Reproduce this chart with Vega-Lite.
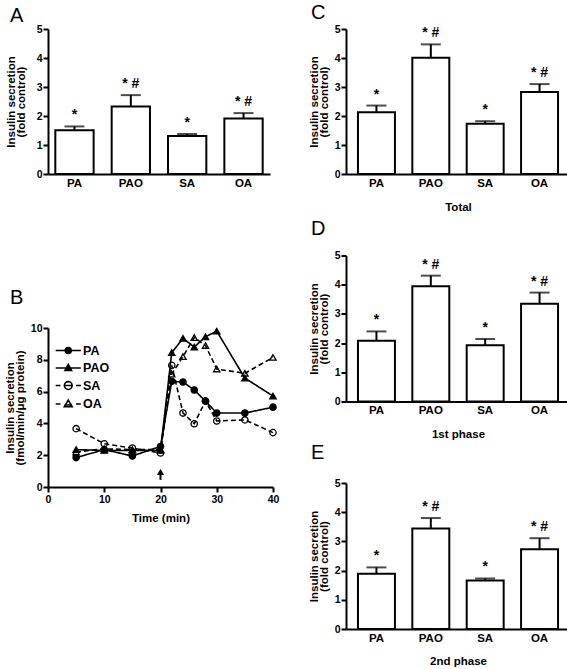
{
  "$schema": "https://vega.github.io/schema/vega-lite/v6.json",
  "padding": {"left": 4, "top": 2, "right": 0, "bottom": 0},
  "background": "white",
  "config": {
    "font": "Liberation Sans",
    "view": {"stroke": null},
    "axis": {"domainColor": "black", "domainWidth": 2, "tickColor": "black", "tickWidth": 2, "tickSize": 5, "labelColor": "black", "labelFont": "Liberation Sans", "labelFontWeight": "bold", "labelFontSize": 10.5, "labelPadding": 1, "labelOverlap": false, "labelSeparation": -40, "labelFlush": false, "titleColor": "black", "titleFont": "Liberation Sans", "titleFontWeight": "bold", "titleFontSize": 11.5, "titleLineHeight": 10, "grid": false},
    "title": {"anchor": "start", "frame": "group", "fontSize": 20, "fontWeight": "normal", "color": "black", "font": "Liberation Sans"}
  },
  "datasets": {
    "A": [
      {"g": "PA", "m": 1.51, "hi": 1.64, "sig": "*"},
      {"g": "PAO", "m": 2.33, "hi": 2.72, "sig": "* #"},
      {"g": "SA", "m": 1.31, "hi": 1.38, "sig": "*"},
      {"g": "OA", "m": 1.91, "hi": 2.10, "sig": "* #"}
    ],
    "C": [
      {"g": "PA", "m": 2.13, "hi": 2.36, "sig": "*"},
      {"g": "PAO", "m": 4.01, "hi": 4.47, "sig": "* #"},
      {"g": "SA", "m": 1.73, "hi": 1.82, "sig": "*"},
      {"g": "OA", "m": 2.83, "hi": 3.10, "sig": "* #"}
    ],
    "D": [
      {"g": "PA", "m": 2.08, "hi": 2.40, "sig": "*"},
      {"g": "PAO", "m": 3.95, "hi": 4.31, "sig": "* #"},
      {"g": "SA", "m": 1.93, "hi": 2.14, "sig": "*"},
      {"g": "OA", "m": 3.35, "hi": 3.73, "sig": "* #"}
    ],
    "E": [
      {"g": "PA", "m": 1.89, "hi": 2.11, "sig": "*"},
      {"g": "PAO", "m": 3.44, "hi": 3.80, "sig": "* #"},
      {"g": "SA", "m": 1.66, "hi": 1.73, "sig": "*"},
      {"g": "OA", "m": 2.73, "hi": 3.11, "sig": "* #"}
    ],
    "B": [
      {"s": "PA", "t": 5, "v": 1.85}, {"s": "PA", "t": 10, "v": 2.35}, {"s": "PA", "t": 15, "v": 1.95}, {"s": "PA", "t": 20, "v": 2.55}, {"s": "PA", "t": 22, "v": 6.65}, {"s": "PA", "t": 24, "v": 6.6}, {"s": "PA", "t": 26, "v": 6.1}, {"s": "PA", "t": 28, "v": 5.4}, {"s": "PA", "t": 30, "v": 4.65}, {"s": "PA", "t": 35, "v": 4.65}, {"s": "PA", "t": 40, "v": 5.02},
      {"s": "PAO", "t": 5, "v": 2.35}, {"s": "PAO", "t": 10, "v": 2.3}, {"s": "PAO", "t": 15, "v": 2.3}, {"s": "PAO", "t": 20, "v": 2.3}, {"s": "PAO", "t": 22, "v": 8.45}, {"s": "PAO", "t": 24, "v": 9.35}, {"s": "PAO", "t": 26, "v": 8.8}, {"s": "PAO", "t": 28, "v": 9.45}, {"s": "PAO", "t": 30, "v": 9.8}, {"s": "PAO", "t": 35, "v": 6.85}, {"s": "PAO", "t": 40, "v": 5.72},
      {"s": "SA", "t": 5, "v": 3.67}, {"s": "SA", "t": 10, "v": 2.72}, {"s": "SA", "t": 15, "v": 2.45}, {"s": "SA", "t": 20, "v": 2.14}, {"s": "SA", "t": 22, "v": 7.65}, {"s": "SA", "t": 24, "v": 4.65}, {"s": "SA", "t": 26, "v": 3.98}, {"s": "SA", "t": 28, "v": 5.4}, {"s": "SA", "t": 30, "v": 4.15}, {"s": "SA", "t": 35, "v": 4.22}, {"s": "SA", "t": 40, "v": 3.42},
      {"s": "OA", "t": 5, "v": 2.2}, {"s": "OA", "t": 10, "v": 2.4}, {"s": "OA", "t": 15, "v": 2.35}, {"s": "OA", "t": 20, "v": 2.35}, {"s": "OA", "t": 22, "v": 7.1}, {"s": "OA", "t": 24, "v": 8.2}, {"s": "OA", "t": 26, "v": 9.4}, {"s": "OA", "t": 28, "v": 8.9}, {"s": "OA", "t": 30, "v": 7.42}, {"s": "OA", "t": 35, "v": 7.15}, {"s": "OA", "t": 40, "v": 8.15}
    ],
    "arrow": [{"t": 20, "lo": 0.45, "hi": 0.95}]
  },
  "hconcat": [
    {
      "vconcat": [
        {
          "width": 222, "height": 145,
          "title": {"text": "A", "dx": -38, "offset": -1.9},
          "data": {"name": "A"},
          "encoding": {"x": {"field": "g", "type": "nominal", "sort": null, "scale": {"paddingInner": 0.32, "paddingOuter": 0.13}, "axis": {"title": null, "ticks": false, "labelPadding": 3, "labelFontSize": 11.5, "labelAngle": 0, "labelOverlap": false}}},
          "layer": [
            {"mark": {"type": "bar", "fill": "white", "stroke": "black", "strokeWidth": 2}, "encoding": {"y": {"field": "m", "type": "quantitative", "scale": {"domain": [0, 5]}, "axis": {"values": [0, 1, 2, 3, 4, 5], "labelOverlap": false, "title": ["Insulin secretion", "(fold control)"], "titlePadding": 10}}}},
            {"mark": {"type": "rule", "strokeWidth": 2, "color": "black"}, "encoding": {"y": {"field": "m", "type": "quantitative", "axis": {"values": [0, 1, 2, 3, 4, 5], "labelOverlap": false, "title": ["Insulin secretion", "(fold control)"], "titlePadding": 10}}, "y2": {"field": "hi"}}},
            {"mark": {"type": "tick", "thickness": 2, "size": 20, "color": "black"}, "encoding": {"y": {"field": "hi", "type": "quantitative", "axis": {"values": [0, 1, 2, 3, 4, 5], "labelOverlap": false, "title": ["Insulin secretion", "(fold control)"], "titlePadding": 10}}}},
            {"mark": {"type": "text", "baseline": "alphabetic", "dy": -7, "fontSize": 14, "fontWeight": "bold", "color": "black"}, "encoding": {"y": {"field": "hi", "type": "quantitative", "axis": {"values": [0, 1, 2, 3, 4, 5], "labelOverlap": false, "title": ["Insulin secretion", "(fold control)"], "titlePadding": 10}}, "text": {"field": "sig"}}}
          ]
        },
        {
          "width": 225, "height": 159,
          "title": {"text": "B", "dx": -38, "offset": 15.5},
          "resolve": {"scale": {"shape": "independent", "fill": "independent"}},
          "layer": [
            {
              "data": {"name": "B"},
              "mark": {"type": "line", "strokeWidth": 1.6, "color": "black"},
              "encoding": {
                "x": {"field": "t", "type": "quantitative", "scale": {"domain": [0, 40]}, "axis": {"values": [0, 10, 20, 30, 40], "labelOverlap": false, "title": "Time (min)", "labelPadding": 2, "titlePadding": 8}},
                "y": {"field": "v", "type": "quantitative", "scale": {"domain": [0, 10]}, "axis": {"values": [0, 2, 4, 6, 8, 10], "labelOverlap": false, "title": ["Insulin secretion", "(fmol/min/μg protein)"], "titlePadding": 5}},
                "strokeDash": {"field": "s", "type": "nominal", "scale": {"domain": ["OA", "SA", "PAO", "PA"], "range": [[5, 3], [5, 3], [1, 0], [1, 0]]}, "legend": null},
                "detail": {"field": "s"}
              }
            },
            {
              "data": {"name": "B"},
              "mark": {"type": "point", "filled": true, "size": 40, "stroke": "black", "strokeWidth": 1.3, "opacity": 1},
              "encoding": {
                "x": {"field": "t", "type": "quantitative", "axis": {"values": [0, 10, 20, 30, 40], "labelOverlap": false, "title": "Time (min)", "labelPadding": 2, "titlePadding": 8}},
                "y": {"field": "v", "type": "quantitative", "axis": {"values": [0, 2, 4, 6, 8, 10], "labelOverlap": false, "title": ["Insulin secretion", "(fmol/min/μg protein)"], "titlePadding": 5}},
                "fill": {"field": "s", "type": "nominal", "scale": {"domain": ["SA", "OA", "PA", "PAO"], "range": ["transparent", "transparent", "black", "black"]}, "legend": null},
                "shape": {"field": "s", "type": "nominal", "scale": {"domain": ["PAO", "PA", "OA", "SA"], "range": ["triangle-up", "circle", "triangle-up", "circle"]}, "legend": null}
              }
            },
            {
              "data": {"name": "B"},
              "transform": [{"filter": "datum.t == 10"}],
              "mark": {"type": "point", "filled": true, "size": 36, "strokeWidth": 1.6, "opacity": 0},
              "encoding": {
                "x": {"field": "t", "type": "quantitative", "axis": {"values": [0, 10, 20, 30, 40], "labelOverlap": false, "title": "Time (min)", "labelPadding": 2, "titlePadding": 8}},
                "y": {"field": "v", "type": "quantitative", "axis": {"values": [0, 2, 4, 6, 8, 10], "labelOverlap": false, "title": ["Insulin secretion", "(fmol/min/μg protein)"], "titlePadding": 5}},
                "stroke": {"value": "black"},
                "fill": {"field": "s", "type": "nominal", "scale": {"domain": ["PA", "PAO", "SA", "OA"], "range": ["black", "black", "transparent", "transparent"]},
                  "legend": {"title": null, "orient": "none", "legendX": 14, "legendY": 16.3, "symbolSize": 36, "symbolOpacity": 1, "symbolStrokeWidth": 1.6, "symbolStrokeColor": "black", "symbolFillColor": "black", "labelFontSize": 12.5, "labelFontWeight": "bold", "labelFont": "Liberation Sans", "labelColor": "black", "labelOffset": 8.5, "rowPadding": 3.5, "padding": 0}},
                "shape": {"field": "s", "type": "nominal", "scale": {"domain": ["PA", "PAO", "SA", "OA"], "range": [
                    "M-4.2,0L4.2,0M1,0A1,1,0,1,1,-1,0A1,1,0,1,1,1,0Z",
                    "M-4.2,0L4.2,0M0,-1.2L1.1,0.8L-1.1,0.8Z",
                    "M-4.2,0L-2.6,0M-1.3,0L1.3,0M2.6,0L4.2,0M1.3,0A1.3,1.3,0,1,1,-1.3,0A1.3,1.3,0,1,1,1.3,0Z",
                    "M-4.2,0L-2.6,0M-1.3,0.3L1.3,0.3M2.6,0L4.2,0M0,-1.3L1.3,0.9L-1.3,0.9Z"]},
                  "legend": {"title": null, "orient": "none", "legendX": 14, "legendY": 16.3, "symbolSize": 36, "symbolOpacity": 1, "symbolStrokeWidth": 1.6, "symbolStrokeColor": "black", "symbolFillColor": "black", "labelFontSize": 12.5, "labelFontWeight": "bold", "labelFont": "Liberation Sans", "labelColor": "black", "labelOffset": 8.5, "rowPadding": 3.5, "padding": 0}}
              }
            },
            {
              "data": {"name": "arrow"},
              "mark": {"type": "rule", "strokeWidth": 2, "color": "black"},
              "encoding": {"x": {"field": "t", "type": "quantitative", "axis": {"values": [0, 10, 20, 30, 40], "labelOverlap": false, "title": "Time (min)", "labelPadding": 2, "titlePadding": 8}}, "y": {"field": "lo", "type": "quantitative", "axis": {"values": [0, 2, 4, 6, 8, 10], "labelOverlap": false, "title": ["Insulin secretion", "(fmol/min/μg protein)"], "titlePadding": 5}}, "y2": {"field": "hi"}}
            },
            {
              "data": {"name": "arrow"},
              "mark": {"type": "point", "shape": "triangle-up", "filled": true, "color": "black", "size": 50, "opacity": 1},
              "encoding": {"x": {"field": "t", "type": "quantitative", "axis": {"values": [0, 10, 20, 30, 40], "labelOverlap": false, "title": "Time (min)", "labelPadding": 2, "titlePadding": 8}}, "y": {"field": "hi", "type": "quantitative", "axis": {"values": [0, 2, 4, 6, 8, 10], "labelOverlap": false, "title": ["Insulin secretion", "(fmol/min/μg protein)"], "titlePadding": 5}}}
            }
          ]
        }
      ],
      "spacing": 154,
      "bounds": "flush",
      "resolve": {"legend": {"shape": "independent", "fill": "independent", "strokeDash": "independent"}}
    },
    {
      "vconcat": [
        {
          "width": 224, "height": 145,
          "title": {"text": "C", "dx": -35, "offset": 1.3},
          "data": {"name": "C"},
          "encoding": {"x": {"field": "g", "type": "nominal", "sort": null, "scale": {"paddingInner": 0.32, "paddingOuter": 0.22}, "axis": {"title": "Total", "ticks": false, "labelPadding": 3, "labelFontSize": 11.5, "labelAngle": 0, "labelOverlap": false, "titlePadding": 13}}},
          "layer": [
            {"mark": {"type": "bar", "fill": "white", "stroke": "black", "strokeWidth": 2}, "encoding": {"y": {"field": "m", "type": "quantitative", "scale": {"domain": [0, 5]}, "axis": {"values": [0, 1, 2, 3, 4, 5], "labelOverlap": false, "title": ["Insulin secretion", "(fold control)"], "titlePadding": 5}}}},
            {"mark": {"type": "rule", "strokeWidth": 2, "color": "black"}, "encoding": {"y": {"field": "m", "type": "quantitative", "axis": {"values": [0, 1, 2, 3, 4, 5], "labelOverlap": false, "title": ["Insulin secretion", "(fold control)"], "titlePadding": 5}}, "y2": {"field": "hi"}}},
            {"mark": {"type": "tick", "thickness": 2, "size": 20, "color": "black"}, "encoding": {"y": {"field": "hi", "type": "quantitative", "axis": {"values": [0, 1, 2, 3, 4, 5], "labelOverlap": false, "title": ["Insulin secretion", "(fold control)"], "titlePadding": 5}}}},
            {"mark": {"type": "text", "baseline": "alphabetic", "dy": -7, "fontSize": 14, "fontWeight": "bold", "color": "black"}, "encoding": {"y": {"field": "hi", "type": "quantitative", "axis": {"values": [0, 1, 2, 3, 4, 5], "labelOverlap": false, "title": ["Insulin secretion", "(fold control)"], "titlePadding": 5}}, "text": {"field": "sig"}}}
          ]
        },
        {
          "width": 224, "height": 146,
          "title": {"text": "D", "dx": -35, "offset": 11.5},
          "data": {"name": "D"},
          "encoding": {"x": {"field": "g", "type": "nominal", "sort": null, "scale": {"paddingInner": 0.32, "paddingOuter": 0.22}, "axis": {"title": "1st phase", "ticks": false, "labelPadding": 3, "labelFontSize": 11.5, "labelAngle": 0, "labelOverlap": false, "titlePadding": 12}}},
          "layer": [
            {"mark": {"type": "bar", "fill": "white", "stroke": "black", "strokeWidth": 2}, "encoding": {"y": {"field": "m", "type": "quantitative", "scale": {"domain": [0, 5]}, "axis": {"values": [0, 1, 2, 3, 4, 5], "labelOverlap": false, "title": ["Insulin secretion", "(fold control)"], "titlePadding": 5}}}},
            {"mark": {"type": "rule", "strokeWidth": 2, "color": "black"}, "encoding": {"y": {"field": "m", "type": "quantitative", "axis": {"values": [0, 1, 2, 3, 4, 5], "labelOverlap": false, "title": ["Insulin secretion", "(fold control)"], "titlePadding": 5}}, "y2": {"field": "hi"}}},
            {"mark": {"type": "tick", "thickness": 2, "size": 20, "color": "black"}, "encoding": {"y": {"field": "hi", "type": "quantitative", "axis": {"values": [0, 1, 2, 3, 4, 5], "labelOverlap": false, "title": ["Insulin secretion", "(fold control)"], "titlePadding": 5}}}},
            {"mark": {"type": "text", "baseline": "alphabetic", "dy": -7, "fontSize": 14, "fontWeight": "bold", "color": "black"}, "encoding": {"y": {"field": "hi", "type": "quantitative", "axis": {"values": [0, 1, 2, 3, 4, 5], "labelOverlap": false, "title": ["Insulin secretion", "(fold control)"], "titlePadding": 5}}, "text": {"field": "sig"}}}
          ]
        },
        {
          "width": 224, "height": 146,
          "title": {"text": "E", "dx": -35, "offset": 15},
          "data": {"name": "E"},
          "encoding": {"x": {"field": "g", "type": "nominal", "sort": null, "scale": {"paddingInner": 0.32, "paddingOuter": 0.22}, "axis": {"title": "2nd phase", "ticks": false, "labelPadding": 3, "labelFontSize": 11.5, "labelAngle": 0, "labelOverlap": false, "titlePadding": 12}}},
          "layer": [
            {"mark": {"type": "bar", "fill": "white", "stroke": "black", "strokeWidth": 2}, "encoding": {"y": {"field": "m", "type": "quantitative", "scale": {"domain": [0, 5]}, "axis": {"values": [0, 1, 2, 3, 4, 5], "labelOverlap": false, "title": ["Insulin secretion", "(fold control)"], "titlePadding": 5}}}},
            {"mark": {"type": "rule", "strokeWidth": 2, "color": "black"}, "encoding": {"y": {"field": "m", "type": "quantitative", "axis": {"values": [0, 1, 2, 3, 4, 5], "labelOverlap": false, "title": ["Insulin secretion", "(fold control)"], "titlePadding": 5}}, "y2": {"field": "hi"}}},
            {"mark": {"type": "tick", "thickness": 2, "size": 20, "color": "black"}, "encoding": {"y": {"field": "hi", "type": "quantitative", "axis": {"values": [0, 1, 2, 3, 4, 5], "labelOverlap": false, "title": ["Insulin secretion", "(fold control)"], "titlePadding": 5}}}},
            {"mark": {"type": "text", "baseline": "alphabetic", "dy": -7, "fontSize": 14, "fontWeight": "bold", "color": "black"}, "encoding": {"y": {"field": "hi", "type": "quantitative", "axis": {"values": [0, 1, 2, 3, 4, 5], "labelOverlap": false, "title": ["Insulin secretion", "(fold control)"], "titlePadding": 5}}, "text": {"field": "sig"}}}
          ]
        }
      ],
      "spacing": 81.5,
      "bounds": "flush"
    }
  ],
  "spacing": 29,
  "resolve": {"legend": {"shape": "independent", "fill": "independent", "strokeDash": "independent"}}
}
